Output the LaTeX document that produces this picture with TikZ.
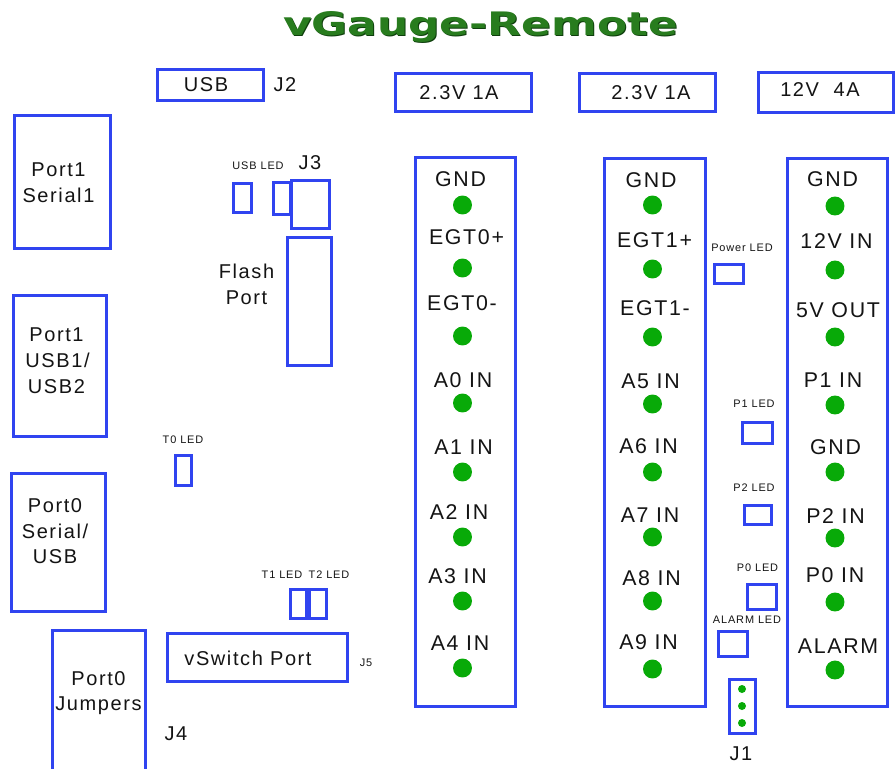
\documentclass[tikz,border=0pt]{standalone}
\usepackage{graphicx}
\usepackage{fontspec}
\setmainfont{Liberation Sans}[LetterSpace=8]
\newfontfamily\titlefont{DejaVu Sans}
\definecolor{vblue}{RGB}{48,68,240}
\definecolor{vgreen}{RGB}{8,170,8}
\definecolor{tgreen}{RGB}{40,124,30}
\definecolor{tdark}{RGB}{14,62,12}
\begin{document}
\begin{tikzpicture}[x=0.75pt,y=-0.75pt,
  bx/.style={draw=vblue,line width=2.25pt},
  lbl/.style={inner sep=0pt,text depth=0pt,text=black!92},
  big/.style={lbl,font=\fontsize{16}{18}\selectfont,text height=11.46pt},
  mid/.style={lbl,font=\fontsize{15}{17}\selectfont,text height=10.74pt},
  sml/.style={lbl,font=\fontsize{8.2}{10}\selectfont,text height=5.87pt},
  pin/.style={fill=vgreen},
  pinr/.style={radius=7.1pt},
  spin/.style={radius=3pt}]
\clip (0,0) rectangle (896,768);
\fill[white] (0,0) rectangle (896,768);

% title
\node[anchor=base,inner sep=0pt,text=tdark] (titleshadow) at (481.5,36)
  {\resizebox{296pt}{18pt}{\titlefont\bfseries vGauge-Remote}};
\node[anchor=base,inner sep=0pt,text=tgreen] (title) at (480.5,35)
  {\resizebox{296pt}{18pt}{\titlefont\bfseries vGauge-Remote}};

% USB J2
\draw[bx] (157.5,69.5) rectangle (263.5,100.5);
\node[mid] (usb) at (206,84) {USB};
\node[mid] (j2) at (285,84) {J2};

% USB LED / J3 / Flash
\node[sml] (usbled) at (258,166) {USB LED};
\node[mid] (j3) at (310,162) {J3};
\draw[bx] (233.5,183.5) rectangle (251.5,212.5);
\draw[bx] (273.5,182.5) rectangle (290,214.5);
\draw[bx] (291.5,180.5) rectangle (329.5,228.5);
\draw[bx] (287.5,237.5) rectangle (331.5,365.5);
\node[mid] (flash) at (246.5,271.5) {Flash};
\node[mid] (fport) at (246.5,297.5) {Port};

% left ports
\draw[bx] (14.5,115.5) rectangle (110.5,248.5);
\node[mid] (p1a) at (58.5,169.5) {Port1};
\node[mid] (p1b) at (58.5,195) {Serial1};
\draw[bx] (13.5,295.5) rectangle (106.5,436.5);
\node[mid] (p1c) at (56.5,334) {Port1};
\node[mid] (p1d) at (57.5,360.5) {USB1/};
\node[mid] (p1e) at (56.5,386) {USB2};
\node[sml] (t0led) at (183,440) {T0 LED};
\draw[bx] (175.5,455.5) rectangle (191.5,485.5);
\draw[bx] (11.5,473.5) rectangle (105.5,611.5);
\node[mid] (p0a) at (55,505.5) {Port0};
\node[mid] (p0b) at (55,531) {Serial/};
\node[mid] (p0c) at (55,556) {USB};

% T1/T2, vSwitch, J4, J5
\node[sml] (t1led) at (282,575) {T1 LED};
\node[sml] (t2led) at (329,575) {T2 LED};
\draw[bx] (290.5,589.5) rectangle (306.5,618.5);
\draw[bx] (309.5,589.5) rectangle (326.5,618.5);
\draw[bx] (167.5,633.5) rectangle (347.5,681.5);
\node[mid] (vsw) at (248,658.5) {vSwitch Port};
\node[sml] (j5) at (366,663) {J5};
\draw[bx] (52.5,780) -- (52.5,630.5) -- (145.5,630.5) -- (145.5,780);
\node[mid] (p0d) at (98.5,678) {Port0};
\node[mid] (p0e) at (98.5,703.5) {Jumpers};
\node[mid] (j4) at (176,733.5) {J4};

% power boxes
\draw[bx] (395.5,73.5) rectangle (531.5,111.5);
\node[mid] (pw1) at (459,92) {2.3V 1A};
\draw[bx] (579.5,73.5) rectangle (715.5,111.5);
\node[mid] (pw2) at (651,92) {2.3V 1A};
\draw[bx] (758.5,72.5) rectangle (893.5,112.5);
\node[mid] (pw3) at (820,89.5) {12V\hspace{11pt}4A};

% column 1
\draw[bx] (415.5,157.5) rectangle (515.5,706.5);
\node[big] (c1a) at (460.5,179) {GND};
\node[big] (c1b) at (466.5,237) {EGT0+};
\node[big] (c1c) at (462,302.5) {EGT0-};
\node[big] (c1d) at (463,379.5) {A0 IN};
\node[big] (c1e) at (463.5,446.5) {A1 IN};
\node[big] (c1f) at (459,512) {A2 IN};
\node[big] (c1g) at (457.5,576) {A3 IN};
\node[big] (c1h) at (460,642.5) {A4 IN};
\foreach \y in {205,268,336,403,472,537,601,668}
  \fill[pin] (462.5,\y) circle[pinr];

% column 2
\draw[bx] (604.5,158.5) rectangle (705.5,706.5);
\node[big] (c2a) at (651,180) {GND};
\node[big] (c2b) at (654.5,240) {EGT1+};
\node[big] (c2c) at (655,308) {EGT1-};
\node[big] (c2d) at (650.5,380.5) {A5 IN};
\node[big] (c2e) at (648.5,445.5) {A6 IN};
\node[big] (c2f) at (650,515) {A7 IN};
\node[big] (c2g) at (651.5,577.5) {A8 IN};
\node[big] (c2h) at (648.5,641.5) {A9 IN};
\foreach \y in {205,269,337,404,472,537,601,669}
  \fill[pin] (652.5,\y) circle[pinr];

% column 3
\draw[bx] (787.5,158.5) rectangle (887.5,706.5);
\node[big] (c3a) at (832.5,179) {GND};
\node[big] (c3b) at (836.5,241) {12V IN};
\node[big] (c3c) at (838,310) {5V OUT};
\node[big] (c3d) at (833,380) {P1 IN};
\node[big] (c3e) at (835.5,446.5) {GND};
\node[big] (c3f) at (835.5,516) {P2 IN};
\node[big] (c3g) at (835,575) {P0 IN};
\node[big] (c3h) at (838,646) {ALARM};
\foreach \y in {206,270,337,405,472,538,602,670}
  \fill[pin] (835,\y) circle[pinr];

% LEDs between columns
\node[sml] (pwrled) at (742,248) {Power LED};
\draw[bx] (714.5,264.5) rectangle (743.5,283.5);
\node[sml] (p1led) at (754,404) {P1 LED};
\draw[bx] (742.5,422.5) rectangle (772.5,443.5);
\node[sml] (p2led) at (754,488) {P2 LED};
\draw[bx] (744.5,505.5) rectangle (771.5,524.5);
\node[sml] (p0led) at (757.5,568) {P0 LED};
\draw[bx] (747.5,584.5) rectangle (776.5,609.5);
\node[sml] (alled) at (747,620) {ALARM LED};
\draw[bx] (718.5,631.5) rectangle (747.5,656.5);

% J1
\draw[bx] (729.5,679.5) rectangle (755.5,733.5);
\foreach \y in {689,706,723}
  \fill[pin] (742,\y) circle[spin];
\node[mid] (j1) at (741,753) {J1};
\end{tikzpicture}
\end{document}
